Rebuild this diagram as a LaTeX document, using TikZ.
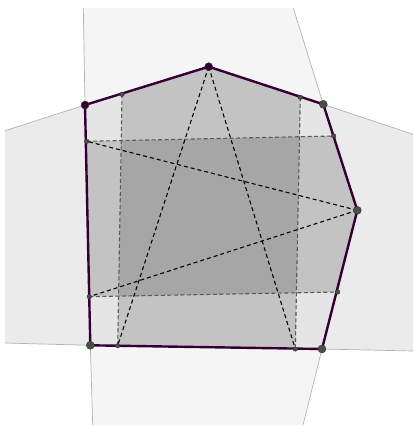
\documentclass[tikz,border=0pt]{standalone}
\usepackage{tikz}

\begin{document}
\begin{tikzpicture}[x=1pt,y=-1pt,
 outer/.style={draw=black!30,line width=0.7pt},
 band/.style={fill=black,fill opacity=0.15},
 grid/.style={draw=black!65,dashed,dash pattern=on 4pt off 2.5pt,line width=1.1pt},
 star/.style={draw=black,dashed,dash pattern=on 4pt off 3pt,line width=1.1pt},
 edge/.style={draw=violet!40!black,line width=2.4pt,line join=round},
 vtx/.style={circle,draw=black!80,fill=black!70,inner sep=0pt,minimum size=8pt},
 pvtx/.style={vtx,fill=violet!40!black},
 dot/.style={circle,draw=black!80,fill=black!70,inner sep=0pt,minimum size=4.5pt}]
\useasboundingbox (0,0) rectangle (414,426);
% corners of the polygon
\coordinate (A) at (85,105);
\coordinate (B) at (208.7,66.7);
\coordinate (C) at (323.3,104.3);
\coordinate (D) at (357.3,210.3);
\coordinate (E) at (322,349);
\coordinate (F) at (90.3,345.3);
% points on the sides
\coordinate (ab) at (122,94.3);
\coordinate (bc) at (300.3,97.3);
\coordinate (cd) at (333.7,136);
\coordinate (de) at (337.7,292);
\coordinate (ef1) at (295.3,349);
\coordinate (ef2) at (117.7,345.7);
\coordinate (fa1) at (89.3,296.7);
\coordinate (fa2) at (86.7,141.3);
% far ends of the outer regions
\coordinate (topL) at (83.3,8);
\coordinate (topR) at (293.3,8);
\coordinate (leftT) at (5,130.7);
\coordinate (leftB) at (5,343);
\coordinate (rightT) at (413,134.3);
\coordinate (rightB) at (413,351);
\coordinate (botR) at (303,425);
\coordinate (botL) at (92.7,425);
% outer regions
\fill[black!4] (topL)--(topR)--(C)--(B)--(A)--cycle;
\fill[black!4] (F)--(E)--(botR)--(botL)--cycle;
\fill[black!8] (leftT)--(A)--(F)--(leftB)--cycle;
\fill[black!8] (C)--(rightT)--(rightB)--(E)--(D)--cycle;
\draw[outer] (topL)--(A)--(leftT);
\draw[outer] (topR)--(C)--(rightT);
\draw[outer] (leftB)--(F)--(botL);
\draw[outer] (rightB)--(E)--(botR);
% polygon and bands
\fill[black,fill opacity=0.1] (A)--(B)--(C)--(D)--(E)--(F)--cycle;
\fill[band] (ab)--(B)--(bc)--(ef1)--(ef2)--cycle;
\fill[band] (fa2)--(cd)--(D)--(de)--(fa1)--cycle;
\foreach \a/\b in {ab/ef2,bc/ef1,fa2/cd,fa1/de}
 \draw[grid] (\a)--(\b);
\foreach \a/\b in {B/ef2,B/ef1,D/fa2,D/fa1}
 \draw[star] (\a)--(\b);
\draw[edge] (A)--(B)--(C)--(D)--(E)--(F)--cycle;
% points
\foreach \p in {ab,bc,cd,de,ef1,ef2,fa1,fa2}
 \node[dot] at (\p) {};
\foreach \p in {C,D,E,F}
 \node[vtx] at (\p) {};
\foreach \p in {A,B}
 \node[pvtx] at (\p) {};
\end{tikzpicture}
\end{document}
